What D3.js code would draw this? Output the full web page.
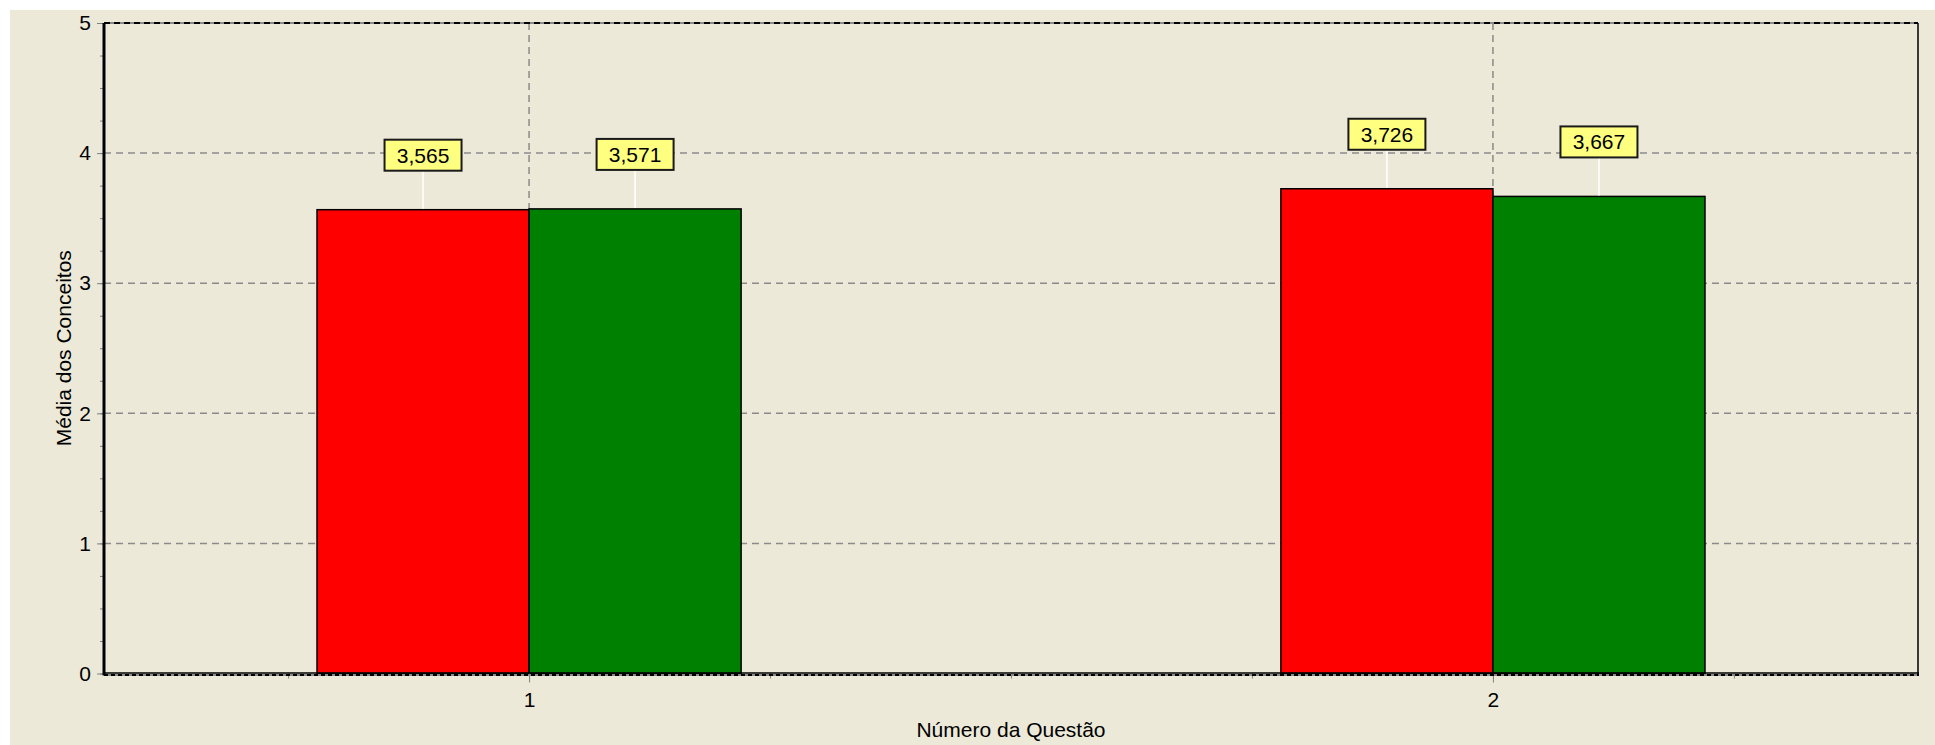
<!DOCTYPE html>
<head>
    <title>Média dos Conceitos</title>
    <meta charset='utf-8'>
    <script type='text/javascript' src='https://cdn.jsdelivr.net/npm/d3@7/dist/d3.min.js'></script>
    <style>
        body { margin: 0; background: #fff; }
        svg text { font-family: 'Liberation Sans', Arial, sans-serif; font-size: 21px; fill: #000; }
    </style>
</head>

<body>
    <div id='chart'></div>

    <script>
    // data
    var questions = [1, 2];
    var seriesRed = [3.565, 3.726];
    var seriesGreen = [3.571, 3.667];
    var yTicks = [0, 1, 2, 3, 4, 5];
    var yMinor = d3.range(0, 5.001, 0.25);
    var xMinor = [0.75, 1, 1.25, 1.5, 1.75, 2, 2.25];
    var seriesColors = ['#ff0000', '#008000'];

    var svgWidth = 1935, svgHeight = 745;
    var margin = {top: 23, right: 17, bottom: 71, left: 104};

    const svg = d3.select('#chart').append('svg')
        .attr('width', svgWidth)
        .attr('height', svgHeight);

    // beige panel with white strip at top/left
    svg.append('rect')
        .attr('x', 10).attr('y', 10)
        .attr('width', svgWidth - 10).attr('height', svgHeight - 10)
        .attr('fill', '#ece9d8');

    var x = d3.scaleLinear()
        .domain([0.559, 2.441])
        .range([margin.left, svgWidth - margin.right]);
    var y = d3.scaleLinear()
        .domain([0, 5])
        .range([svgHeight - margin.bottom - 0.5, margin.top]);

    var barW = 0.22;
    var fmt = d3.formatLocale({decimal: ',', thousands: '.', grouping: [3], currency: ['R$', '']}).format('.3f');

    // grid
    var grid = svg.append('g');
    grid.selectAll('.hg')
        .data(yTicks.filter(d => d > 0))
        .enter().append('line')
        .attr('x1', x.range()[0]).attr('x2', x.range()[1])
        .attr('y1', d => y(d)).attr('y2', d => y(d))
        .attr('stroke', '#8a8a8a').attr('stroke-width', 1.5)
        .attr('stroke-dasharray', '7,5');
    grid.selectAll('.vg')
        .data(questions)
        .enter().append('line')
        .attr('x1', d => x(d)).attr('x2', d => x(d))
        .attr('y1', y(5)).attr('y2', y(0))
        .attr('stroke', '#8a8a8a').attr('stroke-width', 1.5)
        .attr('stroke-dasharray', '7,5');

    // bars
    var bars = [];
    questions.forEach(function (q, i) {
        bars.push({q: q, v: seriesRed[i], x0: q - barW, c: seriesColors[0]});
        bars.push({q: q, v: seriesGreen[i], x0: q, c: seriesColors[1]});
    });

    svg.append('g').selectAll('rect')
        .data(bars)
        .enter().append('rect')
        .attr('x', d => x(d.x0))
        .attr('width', d => x(d.x0 + barW) - x(d.x0))
        .attr('y', d => y(d.v))
        .attr('height', d => y(0) - y(d.v))
        .attr('fill', d => d.c)
        .attr('stroke', '#000')
        .attr('stroke-width', 1.5);

    // axes
    svg.append('g')
        .attr('transform', 'translate(' + margin.left + ',0)')
        .call(d3.axisLeft(y).tickValues(yTicks).tickSize(7).tickPadding(6).tickFormat(d3.format('d')));
    svg.append('g')
        .attr('transform', 'translate(' + margin.left + ',0)')
        .call(d3.axisLeft(y).tickValues(yMinor).tickSize(4).tickFormat(''));

    svg.append('g')
        .attr('transform', 'translate(0,' + y(0) + ')')
        .call(d3.axisBottom(x).tickValues(questions).tickSize(9).tickPadding(10).tickFormat(d3.format('d')));
    svg.append('g')
        .attr('transform', 'translate(0,' + y(0) + ')')
        .call(d3.axisBottom(x).tickValues(xMinor).tickSize(5).tickFormat(''));

    svg.selectAll('.domain').remove();
    svg.selectAll('.tick line').attr('stroke', '#808080');
    svg.selectAll('.tick text')
        .style('font-family', "'Liberation Sans', Arial, sans-serif")
        .style('font-size', '21px')
        .attr('fill', '#000');

    // frame
    var x0 = x.range()[0], x1 = x.range()[1];
    svg.append('line')
        .attr('x1', x1).attr('x2', x1)
        .attr('y1', y(5)).attr('y2', y(0) + 2)
        .attr('stroke', '#3a3a3a').attr('stroke-width', 2);
    svg.append('line')
        .attr('x1', x0).attr('x2', x1)
        .attr('y1', y(5)).attr('y2', y(5))
        .attr('stroke', '#8a8a8a').attr('stroke-width', 2);
    svg.append('line')
        .attr('x1', x0).attr('x2', x1)
        .attr('y1', y(5)).attr('y2', y(5))
        .attr('stroke', '#000').attr('stroke-width', 2)
        .attr('stroke-dasharray', '6,4');
    svg.append('line')
        .attr('x1', x0).attr('x2', x1 + 1)
        .attr('y1', y(0) - 0.5).attr('y2', y(0) - 0.5)
        .attr('stroke', '#000').attr('stroke-width', 1.5);
    svg.append('line')
        .attr('x1', x0).attr('x2', x1 + 1)
        .attr('y1', y(0) + 1.5).attr('y2', y(0) + 1.5)
        .attr('stroke', '#8a8a8a').attr('stroke-width', 2);
    svg.append('line')
        .attr('x1', x0).attr('x2', x1 + 1)
        .attr('y1', y(0) + 1.5).attr('y2', y(0) + 1.5)
        .attr('stroke', '#000').attr('stroke-width', 2)
        .attr('stroke-dasharray', '4,3');
    svg.append('line')
        .attr('x1', x0).attr('x2', x0)
        .attr('y1', y(5)).attr('y2', y(0) + 2)
        .attr('stroke', '#000').attr('stroke-width', 3);

    // value labels
    var labels = svg.append('g').selectAll('g')
        .data(bars)
        .enter().append('g')
        .attr('transform', d => 'translate(' + x(d.x0 + barW / 2) + ',' + y(d.v) + ')');
    labels.append('line')
        .attr('x1', 0).attr('x2', 0)
        .attr('y1', -1).attr('y2', -39)
        .attr('stroke', '#fff').attr('stroke-width', 1.5);
    labels.append('rect')
        .attr('x', -38.5).attr('y', -70)
        .attr('width', 77).attr('height', 31)
        .attr('fill', '#ffff80')
        .attr('stroke', '#1a1a1a').attr('stroke-width', 2);
    labels.append('text')
        .attr('x', 0).attr('y', -47)
        .attr('text-anchor', 'middle')
        .text(d => fmt(d.v));

    // axis titles
    svg.append('text')
        .attr('x', (x0 + x1) / 2).attr('y', 737)
        .attr('text-anchor', 'middle')
        .text('Número da Questão');
    svg.append('text')
        .attr('transform', 'translate(71,' + (y(0) + y(5)) / 2 + ') rotate(-90)')
        .attr('text-anchor', 'middle')
        .text('Média dos Conceitos');
    </script>
</body>
</html>
